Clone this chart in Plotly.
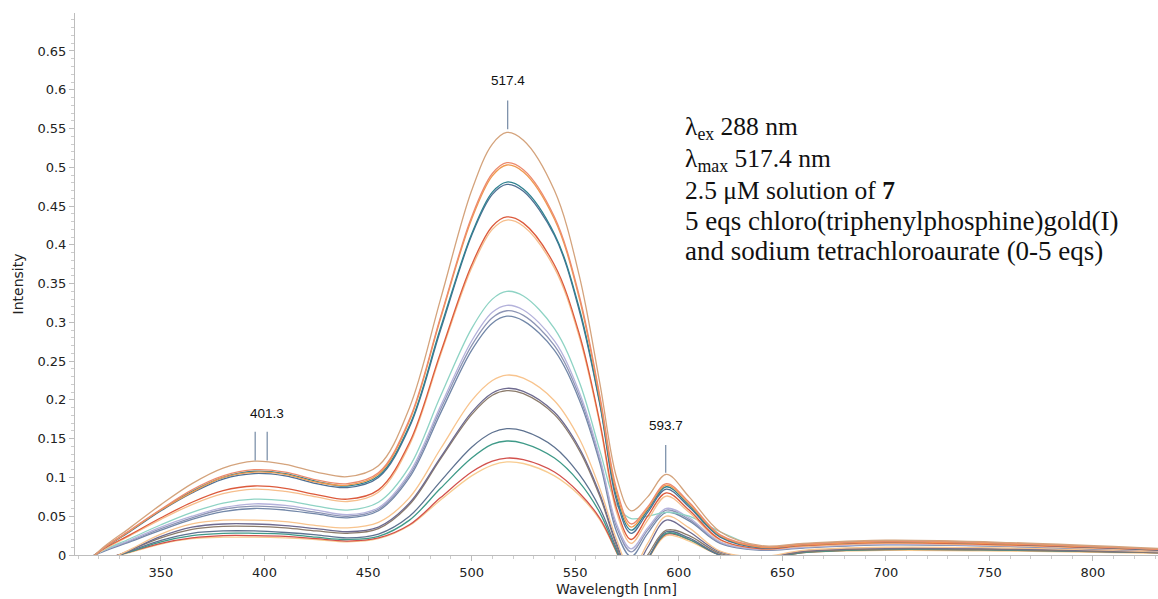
import plotly.graph_objects as go

wavelength = [305, 320, 335, 350, 365, 380, 395, 410, 425, 440, 455, 470, 485, 500, 510, 517,
              525, 540, 552, 562, 570, 577, 585, 594, 605, 620, 640, 660, 700, 760, 835]

s01 = [-0.040, 0.005, 0.035, 0.065, 0.092, 0.112, 0.121, 0.117, 0.107, 0.101, 0.115, 0.190, 0.330, 0.470, 0.530, 0.545,
       0.535, 0.470, 0.360, 0.220, 0.100, 0.057, 0.075, 0.104, 0.075, 0.030, 0.012, 0.015, 0.019, 0.016, 0.008]
s02 = [-0.036, 0.004, 0.032, 0.059, 0.084, 0.102, 0.110, 0.107, 0.097, 0.092, 0.106, 0.175, 0.307, 0.436, 0.492, 0.506,
       0.497, 0.436, 0.334, 0.204, 0.085, 0.040, 0.062, 0.092, 0.068, 0.026, 0.011, 0.014, 0.018, 0.015, 0.007]
s03 = [-0.035, 0.004, 0.031, 0.058, 0.081, 0.100, 0.107, 0.104, 0.094, 0.090, 0.104, 0.173, 0.305, 0.433, 0.489, 0.503,
       0.494, 0.433, 0.331, 0.200, 0.080, 0.036, 0.060, 0.090, 0.066, 0.025, 0.010, 0.013, 0.017, 0.014, 0.007]
s04 = [-0.036, 0.004, 0.031, 0.058, 0.082, 0.100, 0.108, 0.105, 0.095, 0.089, 0.102, 0.167, 0.293, 0.414, 0.468, 0.481,
       0.472, 0.414, 0.318, 0.195, 0.075, 0.032, 0.058, 0.088, 0.064, 0.024, 0.010, 0.014, 0.018, 0.015, 0.007]
s05 = [-0.035, 0.004, 0.030, 0.057, 0.080, 0.098, 0.105, 0.102, 0.092, 0.087, 0.100, 0.165, 0.290, 0.412, 0.465, 0.478,
       0.469, 0.412, 0.315, 0.193, 0.070, 0.028, 0.055, 0.085, 0.062, 0.023, 0.009, 0.013, 0.017, 0.014, 0.006]
s06 = [-0.030, 0.004, 0.026, 0.048, 0.068, 0.083, 0.089, 0.086, 0.078, 0.072, 0.084, 0.145, 0.261, 0.374, 0.424, 0.436,
       0.428, 0.374, 0.285, 0.170, 0.060, 0.020, 0.050, 0.080, 0.058, 0.020, 0.008, 0.012, 0.016, 0.013, 0.006]
s07 = [-0.028, 0.003, 0.025, 0.046, 0.065, 0.079, 0.085, 0.082, 0.075, 0.069, 0.081, 0.142, 0.258, 0.370, 0.420, 0.432,
       0.424, 0.370, 0.281, 0.167, 0.055, 0.015, 0.045, 0.076, 0.055, 0.019, 0.008, 0.011, 0.015, 0.012, 0.005]
s08 = [-0.024, 0.003, 0.021, 0.039, 0.055, 0.067, 0.072, 0.070, 0.063, 0.058, 0.068, 0.114, 0.205, 0.292, 0.330, 0.340,
       0.334, 0.292, 0.223, 0.134, 0.065, 0.047, 0.050, 0.055, 0.050, 0.030, 0.010, 0.012, 0.016, 0.013, 0.006]
s09 = [-0.022, 0.003, 0.019, 0.036, 0.050, 0.061, 0.066, 0.064, 0.058, 0.052, 0.061, 0.106, 0.192, 0.276, 0.313, 0.322,
       0.316, 0.276, 0.210, 0.125, 0.040, 0.008, 0.035, 0.060, 0.048, 0.017, 0.007, 0.010, 0.014, 0.012, 0.005]
s10 = [-0.021, 0.003, 0.018, 0.034, 0.048, 0.059, 0.063, 0.061, 0.055, 0.050, 0.059, 0.103, 0.188, 0.270, 0.306, 0.315,
       0.309, 0.270, 0.205, 0.122, 0.036, 0.004, 0.032, 0.058, 0.046, 0.016, 0.007, 0.010, 0.014, 0.011, 0.005]
s11 = [-0.020, 0.002, 0.017, 0.032, 0.046, 0.056, 0.060, 0.058, 0.053, 0.048, 0.057, 0.100, 0.183, 0.264, 0.299, 0.308,
       0.302, 0.264, 0.200, 0.118, 0.030, -0.002, 0.028, 0.055, 0.044, 0.015, 0.006, 0.009, 0.013, 0.011, 0.005]
s12 = [-0.036, -0.013, 0.007, 0.027, 0.040, 0.045, 0.045, 0.043, 0.038, 0.035, 0.042, 0.074, 0.137, 0.199, 0.225, 0.232,
       0.228, 0.199, 0.150, 0.085, 0.020, -0.020, 0.015, 0.050, 0.035, 0.005, -0.002, 0.006, 0.010, 0.009, 0.004]
s13 = [-0.032, -0.012, 0.006, 0.024, 0.036, 0.040, 0.040, 0.038, 0.034, 0.030, 0.036, 0.067, 0.126, 0.184, 0.209, 0.215,
       0.211, 0.184, 0.138, 0.078, 0.015, -0.025, 0.010, 0.045, 0.030, 0.004, -0.003, 0.005, 0.009, 0.008, 0.004]
s14 = [-0.030, -0.011, 0.006, 0.022, 0.033, 0.037, 0.037, 0.035, 0.031, 0.028, 0.034, 0.065, 0.124, 0.181, 0.206, 0.212,
       0.208, 0.181, 0.135, 0.075, 0.012, -0.030, 0.000, 0.032, 0.025, 0.002, -0.004, 0.004, 0.008, 0.007, 0.003]
s15 = [-0.025, -0.009, 0.005, 0.019, 0.028, 0.031, 0.031, 0.029, 0.026, 0.022, 0.027, 0.050, 0.095, 0.139, 0.158, 0.163,
       0.160, 0.139, 0.104, 0.060, 0.008, -0.035, -0.005, 0.030, 0.022, 0.000, -0.005, 0.004, 0.008, 0.007, 0.003]
s16 = [-0.022, -0.008, 0.004, 0.017, 0.025, 0.028, 0.028, 0.027, 0.023, 0.020, 0.024, 0.045, 0.086, 0.125, 0.143, 0.147,
       0.144, 0.125, 0.094, 0.054, 0.005, -0.035, -0.005, 0.028, 0.020, 0.000, -0.005, 0.003, 0.007, 0.006, 0.003]
s17 = [-0.020, -0.007, 0.004, 0.015, 0.022, 0.025, 0.025, 0.024, 0.021, 0.018, 0.022, 0.039, 0.074, 0.107, 0.121, 0.125,
       0.123, 0.107, 0.080, 0.047, 0.004, -0.035, -0.005, 0.027, 0.020, 0.000, -0.005, 0.003, 0.007, 0.006, 0.003]
s18 = [-0.018, -0.007, 0.003, 0.014, 0.021, 0.023, 0.023, 0.022, 0.020, 0.017, 0.021, 0.038, 0.071, 0.102, 0.116, 0.120,
       0.118, 0.102, 0.077, 0.045, 0.003, -0.035, -0.006, 0.025, 0.018, 0.000, -0.005, 0.003, 0.006, 0.005, 0.002]

series = [s18, s17, s16, s15, s14, s13, s12, s11, s10, s09, s08, s07, s06, s05, s04, s03, s02, s01]
colors = ["#F8CC90", "#D2504C", "#3E9A88", "#5E7290", "#8B7B6B", "#6E6A8F", "#F8C48E", "#7287A8", "#8D95B5",
          "#B4B2DB", "#8ED3C4", "#F6BE8C", "#DC5A3C", "#4F6F93", "#2F8290", "#F09A4E", "#EC8A6E", "#D4A37C"]

peak_labels = ["401.3", "517.4", "593.7"]
peak_label_x = [401.3, 517.4, 593.7]
peak_label_y = [0.170, 0.600, 0.155]
marker_x = [395.5, 401.3, 517.4, 593.7]
marker_y0 = [0.122, 0.122, 0.549, 0.106]
marker_y1 = [0.159, 0.159, 0.586, 0.142]

y_tick_values = [0, 0.05, 0.1, 0.15, 0.2, 0.25, 0.3, 0.35, 0.4, 0.45, 0.5, 0.55, 0.6, 0.65]
y_tick_labels = ["0", "0.05", "0.1", "0.15", "0.2", "0.25", "0.3", "0.35", "0.4", "0.45", "0.5", "0.55", "0.6", "0.65"]

info_lines = ["λ<sub>ex</sub> 288 nm",
              "λ<sub>max</sub> 517.4 nm",
              "2.5 μM solution of <b>7</b>",
              "5 eqs chloro(triphenylphosphine)gold(I)",
              "and sodium tetrachloroaurate (0-5 eqs)"]
info_y = [0.788, 0.729, 0.673, 0.616, 0.561]
info_size = [25.5, 25.5, 25.5, 27, 27]

fig = go.Figure()
for ys, c in zip(series, colors):
    fig.add_trace(go.Scatter(x=wavelength, y=ys, mode="lines",
                             line=dict(color=c, width=1.3, shape="spline", smoothing=1.0),
                             showlegend=False, hoverinfo="skip"))

for x, y0, y1 in zip(marker_x, marker_y0, marker_y1):
    fig.add_shape(type="line", xref="x", yref="y", x0=x, x1=x, y0=y0, y1=y1,
                  line=dict(color="#7F93AC", width=1.3))
for t, x, y in zip(peak_labels, peak_label_x, peak_label_y):
    fig.add_annotation(x=x, y=y, xref="x", yref="y", text=t, showarrow=False,
                       font=dict(family="Liberation Sans, Arial", size=13.5, color="#111"),
                       xanchor="center", yanchor="bottom")

for t, y, s in zip(info_lines, info_y, info_size):
    fig.add_annotation(x=0.561, y=y, xref="paper", yref="paper", text=t, showarrow=False,
                       xanchor="left", yanchor="middle",
                       font=dict(family="Liberation Serif, Times New Roman", size=s, color="#111"))

tick_font = dict(family="DejaVu Sans, Verdana", size=13, color="#222")
title_font = dict(family="DejaVu Sans, Verdana", size=14, color="#222")
fig.update_layout(
    width=1158, height=599,
    margin=dict(l=75, r=0, t=13, b=44),
    paper_bgcolor="white", plot_bgcolor="white",
    xaxis=dict(range=[308.5, 831.4], dtick=50, tick0=0, showgrid=False, zeroline=False,
               showline=True, linecolor="#BDBDBD", linewidth=1,
               ticks="outside", ticklen=5, tickcolor="#BDBDBD",
               minor=dict(dtick=10, ticks="outside", ticklen=3, tickcolor="#CCCCCC"),
               tickfont=tick_font,
               title=dict(text="Wavelength [nm]", standoff=5, font=title_font)),
    yaxis=dict(range=[0, 0.699], tickmode="array", tickvals=y_tick_values, ticktext=y_tick_labels,
               showgrid=False, zeroline=False,
               showline=True, linecolor="#BDBDBD", linewidth=1,
               ticks="outside", ticklen=5, tickcolor="#BDBDBD",
               minor=dict(dtick=0.01, ticks="outside", ticklen=3, tickcolor="#CCCCCC"),
               tickfont=tick_font,
               title=dict(text="Intensity", standoff=10, font=title_font)),
)

fig.write_html("out.html")
